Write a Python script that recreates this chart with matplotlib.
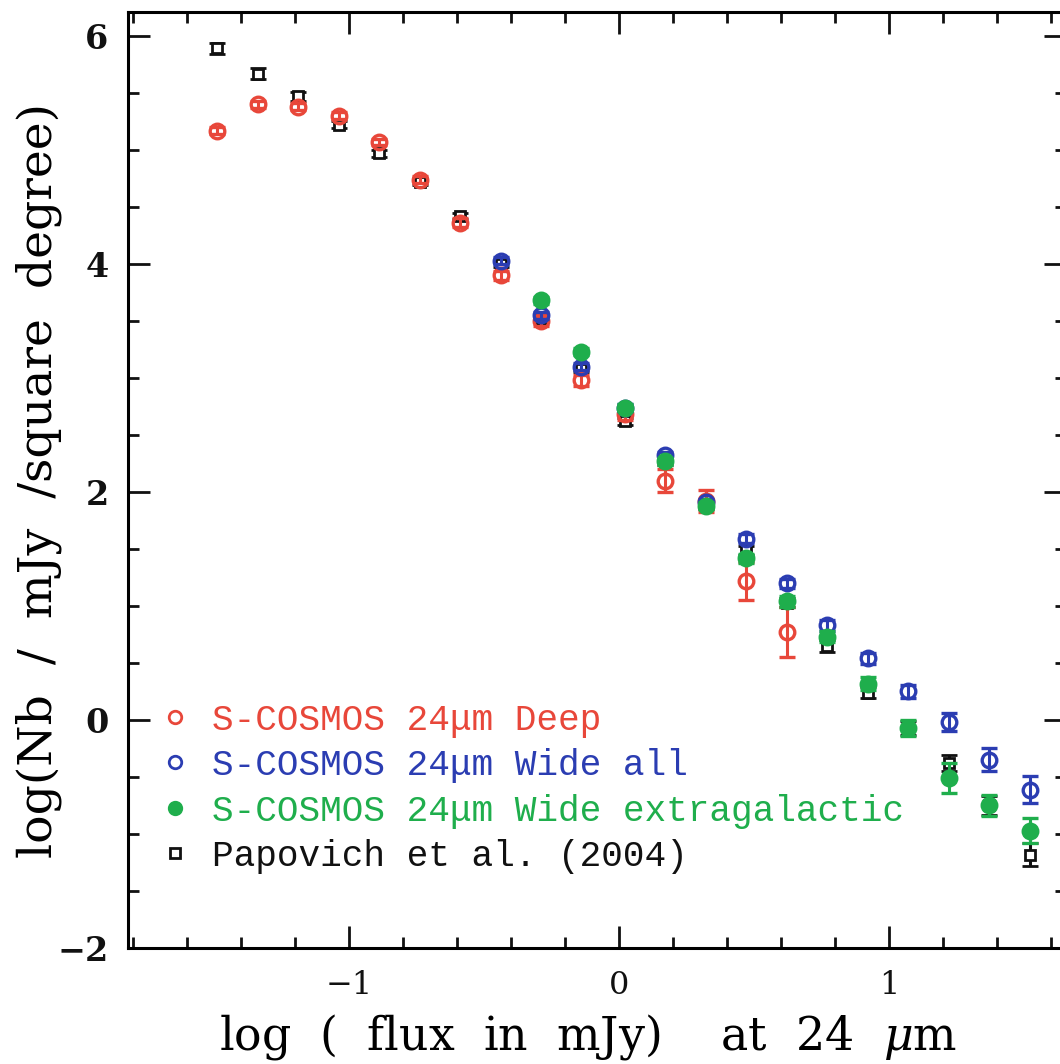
import matplotlib
matplotlib.use("Agg")
import matplotlib.pyplot as plt
from matplotlib.lines import Line2D
from matplotlib.ticker import MultipleLocator
import numpy as np

# ---------------- data ----------------
x_bins = [-1.49, -1.34, -1.19, -1.04, -0.89, -0.74, -0.59, -0.44, -0.29, -0.14,
          0.02, 0.17, 0.32, 0.47, 0.62, 0.77, 0.92, 1.07, 1.22, 1.37, 1.52]

# S-COSMOS Deep (bins 0..14)
deep_y = [5.17, 5.40, 5.38, 5.30, 5.07, 4.74, 4.36, 3.90, 3.50, 2.98, 2.68, 2.10, 1.92, 1.22, 0.77]
deep_err = [0.03, 0.03, 0.03, 0.03, 0.03, 0.03, 0.04, 0.04, 0.04, 0.05, 0.05, 0.10, 0.10, 0.17, 0.22]

# S-COSMOS Wide all (bins 7..20)
wide_y = [4.03, 3.55, 3.10, 2.74, 2.32, 1.91, 1.59, 1.20, 0.83, 0.54, 0.25, -0.02, -0.35, -0.61]
wide_err = [0.03, 0.03, 0.03, 0.03, 0.03, 0.03, 0.04, 0.04, 0.05, 0.05, 0.06, 0.08, 0.10, 0.12]

# S-COSMOS Wide extragalactic (bins 8..20)
extra_y = [3.68, 3.23, 2.74, 2.27, 1.88, 1.42, 1.04, 0.73, 0.32, -0.07, -0.51, -0.75, -0.97]
extra_err = [0.03, 0.03, 0.03, 0.03, 0.03, 0.04, 0.05, 0.05, 0.06, 0.07, 0.13, 0.09, 0.11]

# Papovich et al. (2004) (bins 0..20)
pap_y = [5.89, 5.67, 5.47, 5.22, 4.97, 4.72, 4.42, 4.00, 3.52, 3.08, 2.62, 2.27, 1.88,
         1.49, 1.03, 0.65, 0.24, -0.07, -0.38, -0.75, -1.18]
pap_err = [0.05, 0.05, 0.04, 0.03, 0.03, 0.03, 0.03, 0.03, 0.03, 0.03, 0.03, 0.03, 0.03,
           0.04, 0.04, 0.05, 0.05, 0.06, 0.07, 0.08, 0.10]

labels = ["S-COSMOS 24\u03bcm Deep", "S-COSMOS 24\u03bcm Wide all",
          "S-COSMOS 24\u03bcm Wide extragalactic", "Papovich et al. (2004)"]

RED = "#e8473a"
BLUE = "#2b3db2"
GREEN = "#1fae4c"
BLACK = "#111111"

plt.rcParams["font.family"] = "DejaVu Serif"
plt.rcParams["mathtext.fontset"] = "dejavuserif"

fig = plt.figure(figsize=(10.6, 10.64), dpi=100)
ax = fig.add_axes([128 / 1060, 116 / 1064, 938 / 1060, 936 / 1064])

ms_c = 10.5
mew = 2.4
cap = 5.5
elw = 2.2

xb = np.array(x_bins)
ax.errorbar(xb[0:21], pap_y, yerr=pap_err, fmt="s", ms=7.5, mfc="white", mec=BLACK,
            mew=2.0, ecolor=BLACK, elinewidth=elw, capsize=cap, capthick=elw, zorder=2)
ax.errorbar(xb[0:15], deep_y, yerr=deep_err, fmt="o", ms=ms_c, mfc="none", mec=RED,
            mew=mew, ecolor=RED, elinewidth=elw, capsize=cap, capthick=elw, zorder=3)
ax.errorbar(xb[7:21], wide_y, yerr=wide_err, fmt="o", ms=ms_c, mfc="none", mec=BLUE,
            mew=mew, ecolor=BLUE, elinewidth=elw, capsize=cap, capthick=elw, zorder=4)
ax.errorbar(xb[8:21], extra_y, yerr=extra_err, fmt="o", ms=ms_c, mfc=GREEN, mec=GREEN,
            mew=mew, ecolor=GREEN, elinewidth=elw, capsize=cap, capthick=elw, zorder=5)

ax.set_xlim(-1.82, 1.655)
ax.set_ylim(-2, 6.21)

ax.xaxis.set_major_locator(MultipleLocator(1))
ax.xaxis.set_minor_locator(MultipleLocator(0.2))
ax.yaxis.set_major_locator(MultipleLocator(2))
ax.yaxis.set_minor_locator(MultipleLocator(0.5))
ax.tick_params(which="both", direction="in", top=True, right=True, width=2.0, colors=BLACK)
ax.tick_params(which="major", length=16)
ax.tick_params(which="minor", length=8)
ax.tick_params(axis="x", which="major", labelsize=23, pad=16)
ax.tick_params(axis="y", which="major", labelsize=24, pad=14)
for s in ax.spines.values():
    s.set_linewidth(2.2)

ax.set_xticks([-1, 0, 1])
ax.set_xticklabels(["\u22121", "0", "1"])
ax.set_yticks([-2, 0, 2, 4, 6])
ax.set_yticklabels(["\u22122", "0", "2", "4", "6"], fontweight="bold")

ax.set_xlabel("log  (  flux  in  mJy)    at  24  $\\mu$m", fontsize=33)
ax.set_ylabel("log(Nb  /  mJy  /square  degree)", fontsize=34)
ax.xaxis.set_label_coords(0.49, -0.068)
ax.yaxis.set_label_coords(-0.070, 0.5)

handles = [
    Line2D([], [], ls="none", marker="o", ms=9, mfc="none", mec=RED, mew=2),
    Line2D([], [], ls="none", marker="o", ms=9, mfc="none", mec=BLUE, mew=2),
    Line2D([], [], ls="none", marker="o", ms=9, mfc=GREEN, mec=GREEN, mew=2),
    Line2D([], [], ls="none", marker="s", ms=6.5, mfc="white", mec=BLACK, mew=2),
]
leg = ax.legend(handles, labels, loc="lower left", bbox_to_anchor=(0.031, 0.079),
                frameon=False, prop={"family": "Liberation Mono", "size": 26},
                handlelength=1.0, handletextpad=0.53,
                labelspacing=0.29, borderaxespad=0.0, borderpad=0.0,
                labelcolor=[RED, BLUE, GREEN, BLACK])

fig.savefig("out.png", dpi=100)
